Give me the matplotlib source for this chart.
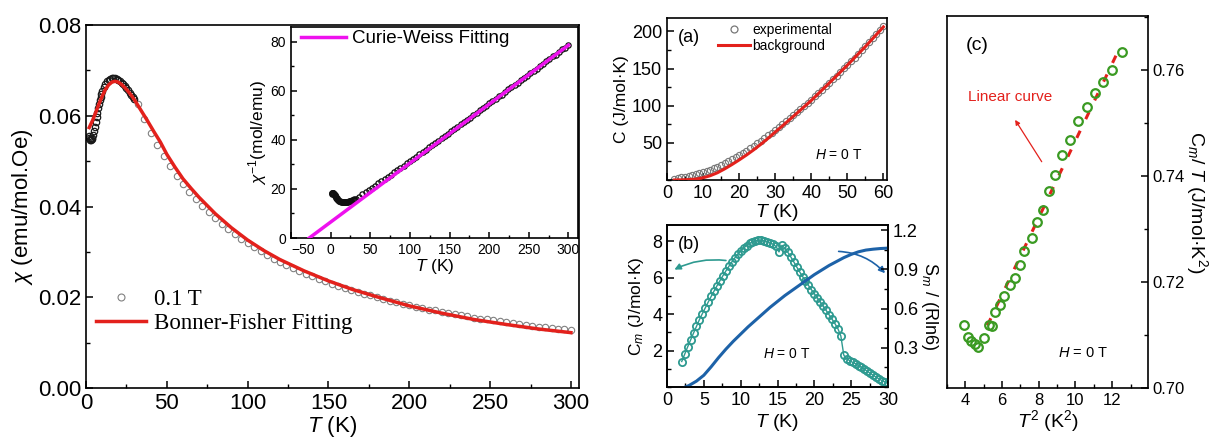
import numpy as np
import matplotlib
matplotlib.use('Agg')
import matplotlib.pyplot as plt
from matplotlib.ticker import MultipleLocator, FormatStrFormatter, FixedLocator
from matplotlib.lines import Line2D

plt.rcParams['font.family'] = ['Liberation Sans', 'DejaVu Sans']
plt.rcParams['mathtext.fontset'] = 'custom'
plt.rcParams['mathtext.rm'] = 'Liberation Sans'
plt.rcParams['mathtext.it'] = 'Liberation Sans:italic'
plt.rcParams['mathtext.bf'] = 'Liberation Sans:bold'
plt.rcParams['axes.linewidth'] = 1.2

# ---------------- data: main chi(T) ----------------
T_low = [1.8, 2.0, 2.3, 2.6, 3.0, 3.5, 4.0, 4.5, 5.0, 5.5, 6.0, 6.5, 7.0, 7.5, 8.0, 8.5,
         9.0, 9.5, 10, 11, 12, 13, 14, 15, 16, 17, 18, 19, 20, 21, 22, 23, 24, 25, 26,
         27, 28, 29, 30]
chi_low = [0.0556, 0.0551, 0.0548, 0.0546, 0.0546, 0.0548, 0.0552, 0.0558, 0.0566, 0.0576,
           0.0586, 0.0597, 0.0607, 0.0617, 0.0626, 0.0635, 0.0642, 0.0649, 0.0655, 0.0664,
           0.0671, 0.0676, 0.0679, 0.0681, 0.0683, 0.0683, 0.0683, 0.0682, 0.0679, 0.0676,
           0.0673, 0.0669, 0.0665, 0.0661, 0.0656, 0.0651, 0.0646, 0.0641, 0.0636]
T_high = list(range(32, 301, 4))
chi_high = [0.0626, 0.0592, 0.0563, 0.0536, 0.0512, 0.0489, 0.0468, 0.0450,
            0.0432, 0.0416, 0.0402, 0.0387, 0.0374, 0.0362, 0.0350, 0.0339, 0.0329, 0.0319,
            0.0310, 0.0302, 0.0293, 0.0285, 0.0278, 0.0271, 0.0264, 0.0258, 0.0252, 0.0246,
            0.0240, 0.0235, 0.0230, 0.0225, 0.0221, 0.0216, 0.0212, 0.0208, 0.0204, 0.0200,
            0.0196, 0.0192, 0.0189, 0.0186, 0.0182, 0.0179, 0.0176, 0.0173, 0.0171, 0.0168,
            0.0165, 0.0163, 0.0160, 0.0158, 0.0155, 0.0153, 0.0151, 0.0149, 0.0147, 0.0145,
            0.0143, 0.0141, 0.0139, 0.0137, 0.0135, 0.0134, 0.0132, 0.0130, 0.0129, 0.0127]
T_bf = [2, 4, 6, 8, 10, 12, 14, 16, 18, 20, 22, 24, 26, 28, 30, 34, 38, 42, 46, 50, 55,
        60, 65, 70, 80, 90, 100, 110, 120, 135, 150, 165, 180, 200, 220, 240, 260, 280, 300]
chi_bf = [0.0574, 0.0589, 0.0607, 0.0626, 0.0643, 0.0658, 0.0668, 0.0674, 0.0676, 0.0674,
          0.0669, 0.0662, 0.0654, 0.0645, 0.0635, 0.0612, 0.0589, 0.0565, 0.0542, 0.0515,
          0.0487, 0.0461, 0.0440, 0.0420, 0.0384, 0.0353, 0.0326, 0.0303, 0.0283, 0.0258,
          0.0236, 0.0217, 0.0201, 0.0181, 0.0165, 0.0151, 0.0140, 0.0130, 0.0122]
# Curie-Weiss line (inset)
T_cw = [-27, 300]
inv_cw = [0.0, 78.6]

# ---------------- data: panel (a) ----------------
T_a = list(range(2, 61))
C_exp = [1.8, 2.6, 3.5, 4.6, 5.7, 6.9, 8.1, 9.4, 10.8, 12.4, 14.1, 16.0, 18.0, 20.2, 22.6,
         25.1, 27.8, 30.6, 33.5, 36.5, 39.6, 42.8, 46.1, 49.5, 53.0, 56.6, 60.2, 63.9, 67.6,
         71.4, 75.2, 79.1, 83.0, 87.0, 91.0, 95.1, 99.2, 103.4, 108.0, 112.5, 117.0, 121.5,
         126.2, 131.0, 135.7, 140.4, 145.2, 150.1, 155.0, 159.9, 164.8, 169.8, 174.9, 180.0,
         185.3, 190.6, 195.9, 201.3, 206.8]
T_bg = [2, 5, 8, 10, 12, 14, 16, 18, 20, 22, 24, 26, 28, 30, 32, 35, 40, 45, 50, 55, 60]
C_bg = [0.0, 0.3, 1.2, 3.0, 5.8, 9.8, 15.0, 20.8, 27.0, 33.5, 40.5, 48.0, 56.0, 64.5, 72.8,
        85.5, 107.0, 130.5, 154.5, 179.5, 206.0]

# ---------------- data: panel (b) ----------------
T_b = np.linspace(2.0, 30.0, 71)
Cm = [1.40, 1.80, 2.20, 2.58, 2.96, 3.33, 3.70, 4.03, 4.35, 4.67,
      4.98, 5.28, 5.57, 5.85, 6.12, 6.38, 6.63, 6.87, 7.09, 7.29,
      7.47, 7.63, 7.77, 7.89, 7.98, 8.04, 8.07, 8.07, 8.04, 7.99,
      7.93, 7.84, 7.72, 7.42, 7.78, 7.62, 7.40, 7.15, 6.88, 6.60,
      6.33, 6.07, 5.82, 5.58, 5.35, 5.12, 4.90, 4.67, 4.44, 4.21,
      3.97, 3.73, 3.48, 3.20, 2.80, 1.75, 1.55, 1.45, 1.35, 1.28,
      1.18, 1.08, 0.97, 0.86, 0.75, 0.64, 0.54, 0.44, 0.35, 0.27,
      0.20]
T_S = [2.5, 3, 4, 5, 6, 7, 8, 9, 10, 11, 12, 13, 14, 15, 16, 17, 18, 19, 20, 21, 22, 23,
       24, 25, 26, 27, 28, 29, 30]
Sm = [0.0, 0.012, 0.045, 0.09, 0.155, 0.225, 0.29, 0.35, 0.405, 0.46, 0.51, 0.56, 0.61,
      0.655, 0.70, 0.74, 0.78, 0.82, 0.86, 0.895, 0.93, 0.96, 0.99, 1.015, 1.035, 1.048,
      1.055, 1.06, 1.063]

# ---------------- data: panel (c) ----------------
T2_c = [3.95, 4.13, 4.31, 4.54, 4.67, 4.99, 5.27, 5.44, 5.63, 5.90, 6.11, 6.44, 6.68, 6.99,
        7.22, 7.62, 7.89, 8.25, 8.56, 8.89, 9.28, 9.70, 10.15, 10.60, 11.06, 11.51, 12.00,
        12.54]
CmT_c = [0.7119, 0.7097, 0.7088, 0.7083, 0.7077, 0.7094, 0.7119, 0.7117, 0.7144, 0.7157,
         0.7174, 0.7195, 0.7207, 0.7232, 0.7258, 0.7283, 0.7314, 0.7336, 0.7371, 0.7402,
         0.7440, 0.7468, 0.7503, 0.7531, 0.7556, 0.7578, 0.7600, 0.7635]
T2_lin = [5.2, 12.45]
CmT_lin = [0.7118, 0.7645]

# ---------------- figure ----------------
W, H = 1211, 440
fig = plt.figure(figsize=(W / 100, H / 100), dpi=100)

def box(l, t, r, b):
    return [l / W, 1 - b / H, (r - l) / W, (b - t) / H]

def style(ax, size):
    ax.tick_params(which='both', direction='in', labelsize=size)
    ax.tick_params(which='major', length=5, width=1.1)
    ax.tick_params(which='minor', length=3, width=1.0)

red = '#e3211c'
# ---- main ----
ax = fig.add_axes(box(86, 25, 579, 388))
ax.plot(T_high, chi_high, 'o', mfc='none', mec='#808080', ms=4.6, mew=0.8, zorder=2)
ax.plot(T_low, chi_low, 'o', mfc='none', mec='#1a1a1a', ms=4.6, mew=0.9, zorder=2)
ax.plot(T_bf, chi_bf, '-', color=red, lw=2.5, zorder=3)
ax.set_xlim(0, 305)
ax.set_ylim(0, 0.08)
ax.xaxis.set_major_locator(MultipleLocator(50))
ax.xaxis.set_minor_locator(MultipleLocator(25))
ax.yaxis.set_major_locator(MultipleLocator(0.02))
ax.yaxis.set_minor_locator(MultipleLocator(0.01))
ax.yaxis.set_major_formatter(FormatStrFormatter('%.2f'))
style(ax, 16)
ax.set_xlabel('$T$ (K)', fontsize=16, labelpad=0)
ax.set_ylabel('$\\chi$ (emu/mol.Oe)', fontsize=16, labelpad=2)
h1 = Line2D([], [], ls='none', marker='o', mfc='none', mec='#808080', ms=5, mew=0.8)
h2 = Line2D([], [], color=red, lw=2.5)
ax.legend([h1, h2], ['0.1 T', 'Bonner-Fisher Fitting'], loc='center left',
          bbox_to_anchor=(0.02, 0.21), frameon=False, borderpad=0, borderaxespad=0,
          handlelength=2.2, handletextpad=0.35, labelspacing=0.12,
          prop={'family': 'Liberation Serif', 'size': 16.5})

# ---- inset ----
ins = fig.add_axes(box(291, 27, 578, 238))
T_all = T_low + T_high
inv_all = [1.0 / c for c in (chi_low + chi_high)]
ins.plot(T_all, inv_all, 'o', mfc='none', mec='#111111', ms=3.8, mew=0.9, zorder=2)
ins.plot(T_cw, inv_cw, '-', color='#ee11ee', lw=2.5, zorder=3,
         label='Curie-Weiss Fitting')
ins.set_xlim(-50, 312)
ins.set_ylim(0, 86)
ins.xaxis.set_major_locator(MultipleLocator(50))
ins.xaxis.set_minor_locator(MultipleLocator(25))
ins.yaxis.set_major_locator(MultipleLocator(20))
ins.yaxis.set_minor_locator(MultipleLocator(10))
style(ins, 10)
ins.tick_params(which='major', length=4)
ins.tick_params(which='minor', length=2.5)
ins.set_xlabel('$T$ (K)', fontsize=12.5, labelpad=0)
ins.set_ylabel('$\\chi^{-1}$(mol/emu)', fontsize=12.5, labelpad=1)
ins.legend(loc='upper left', bbox_to_anchor=(0.035, 0.985), frameon=False, borderpad=0,
           borderaxespad=0, handlelength=2.4, handletextpad=0.3, fontsize=13.5)
fig.canvas.draw()
for lab in ins.get_xticklabels():
    if lab.get_text().replace('\u2212', '-') == '-50':
        lab.set_ha('left')

# ---- panel (a) ----
axa = fig.add_axes(box(667, 18, 887, 180))
axa.plot(T_a, C_exp, 'o', mfc='none', mec='#777777', ms=4.5, mew=0.8, zorder=2)
axa.plot(T_bg, C_bg, '-', color=red, lw=2.2, zorder=3)
axa.set_xlim(0, 61)
axa.set_ylim(0, 218)
axa.xaxis.set_major_locator(MultipleLocator(10))
axa.xaxis.set_minor_locator(MultipleLocator(5))
axa.yaxis.set_major_locator(FixedLocator([50, 100, 150, 200]))
axa.yaxis.set_minor_locator(MultipleLocator(25))
style(axa, 13)
axa.set_xlabel('$T$ (K)', fontsize=14, labelpad=0)
axa.set_ylabel('C (J/mol·K)', fontsize=12.5, labelpad=2)
axa.text(0.05, 0.93, '(a)', transform=axa.transAxes, fontsize=13, va='top', ha='left')
axa.text(47.5, 34, '$H$ = 0 T', fontsize=10, ha='center', va='center')
ha1 = Line2D([], [], ls='none', marker='o', mfc='none', mec='#777777', ms=5, mew=0.9)
ha2 = Line2D([], [], color=red, lw=2.2)
axa.legend([ha1, ha2], ['experimental', 'background'], loc='upper left',
           bbox_to_anchor=(0.23, 0.97), frameon=False, borderpad=0, borderaxespad=0,
           handlelength=2.3, handletextpad=0.2, labelspacing=0.15, fontsize=10)

# ---- panel (b) ----
teal = '#2e9a90'
blue = '#1d62a8'
axb = fig.add_axes(box(667, 225, 888, 387))
axb.plot(T_b, Cm, '-', color=teal, lw=1.0, zorder=2)
axb.plot(T_b, Cm, 'o', mfc='none', mec=teal, ms=5.2, mew=1.3, zorder=3)
axb.set_xlim(0, 30)
axb.set_ylim(0, 8.9)
axb.xaxis.set_major_locator(MultipleLocator(5))
axb.xaxis.set_minor_locator(MultipleLocator(2.5))
axb.yaxis.set_major_locator(FixedLocator([2, 4, 6, 8]))
axb.yaxis.set_minor_locator(MultipleLocator(1))
style(axb, 13)
axb.set_xlabel('$T$ (K)', fontsize=14, labelpad=2)
axb.set_ylabel('C$_m$ (J/mol·K)', fontsize=12.5, labelpad=4)
axb.text(0.05, 0.93, '(b)', transform=axb.transAxes, fontsize=13, va='top', ha='left')
axb.text(16.2, 1.8, '$H$ = 0 T', fontsize=10, ha='center', va='center')
axb2 = axb.twinx()
axb2.plot(T_S, Sm, '-', color=blue, lw=2.2)
axb2.set_ylim(0, 1.24)
axb2.yaxis.set_major_locator(FixedLocator([0.3, 0.6, 0.9, 1.2]))
axb2.yaxis.set_minor_locator(MultipleLocator(0.15))
style(axb2, 13)
axb2.set_ylabel('S$_m$ / (Rln6)', fontsize=13, rotation=270, labelpad=16)
axb.annotate('', xy=(1.0, 6.45), xytext=(8.0, 6.95),
             arrowprops=dict(arrowstyle='-|>', color=teal, lw=1.2, mutation_scale=9,
                             connectionstyle='arc3,rad=0.15', shrinkA=0, shrinkB=0))
axb.annotate('', xy=(29.6, 6.25), xytext=(23.3, 7.45),
             arrowprops=dict(arrowstyle='-|>', color=blue, lw=1.2, mutation_scale=9,
                             connectionstyle='arc3,rad=-0.2', shrinkA=0, shrinkB=0))

# ---- panel (c) ----
green = '#3a9a22'
axc = fig.add_axes(box(947, 16, 1148, 388))
axc.plot(T2_lin, CmT_lin, color=red, lw=2.2, dashes=(2.6, 4.2), zorder=2)
axc.plot(T2_c, CmT_c, 'o', mfc='none', mec=green, ms=6.2, mew=1.6, zorder=3)
axc.set_xlim(3, 13.95)
axc.set_ylim(0.70, 0.7702)
axc.yaxis.tick_right()
axc.yaxis.set_label_position('right')
axc.xaxis.set_major_locator(MultipleLocator(2))
axc.xaxis.set_minor_locator(MultipleLocator(1))
axc.yaxis.set_major_locator(MultipleLocator(0.02))
axc.yaxis.set_minor_locator(MultipleLocator(0.01))
axc.yaxis.set_major_formatter(FormatStrFormatter('%.2f'))
style(axc, 12)
axc.tick_params(axis='y', which='both', left=False, right=True)
axc.set_xlabel('$T^2$ (K$^2$)', fontsize=14, labelpad=0)
axc.set_ylabel('C$_m$/ $T$ (J/mol·K$^2$)', fontsize=14, rotation=270, labelpad=18)
axc.text(4.63, 0.7647, '(c)', fontsize=14, ha='center', va='center')
axc.text(6.44, 0.755, 'Linear curve', fontsize=11, color=red, ha='center', va='center')
axc.annotate('', xy=(6.71, 0.7506), xytext=(8.16, 0.7427),
             arrowprops=dict(arrowstyle='-|>', color=red, lw=0.9, mutation_scale=7,
                             shrinkA=0, shrinkB=0))
axc.text(10.43, 0.7066, '$H$ = 0 T', fontsize=10.5, ha='center', va='center')

fig.savefig('out.png', dpi=100)
